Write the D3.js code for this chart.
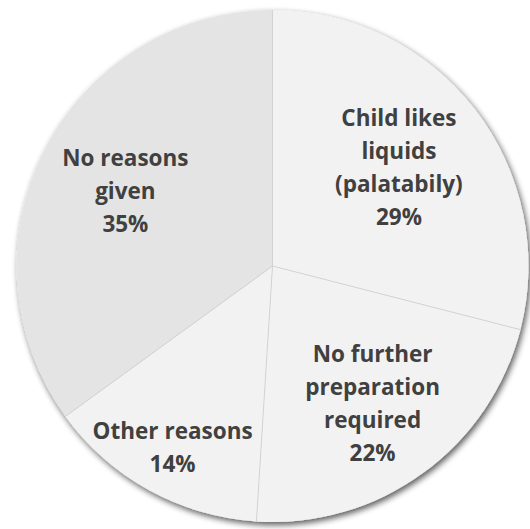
<!DOCTYPE html>
<html>
<head>
<meta charset="utf-8">
<script src="https://cdn.jsdelivr.net/npm/d3@7"></script>
<style>
  html, body { margin: 0; padding: 0; background: #ffffff; }
  svg { display: block; }
</style>
</head>
<body>
<div id="chart"></div>
<script>
// Reasons for choosing a liquid formulation (share of respondents, %)
const categories = [
  "Child likes liquids (palatabily)",
  "No further preparation required",
  "Other reasons",
  "No reasons given"
];
const values = [29, 22, 14, 35];
const labelLines = [
  ["Child likes", "liquids", "(palatabily)", "29%"],
  ["No further", "preparation", "required", "22%"],
  ["Other reasons", "14%"],
  ["No reasons", "given", "35%"]
];
const sliceColors = ["#f2f2f2", "#f2f2f2", "#f2f2f2", "#e4e4e4"];

const width = 530, height = 529;
const cx = 272.5, cy = 266, radius = 256;
// how far out (fraction of radius) each label block sits
const labelRadiusFactor = [0.625, 0.665, 0.81, 0.645];
const lineHeight = 33;

const svg = d3.select("#chart").append("svg")
  .attr("width", width)
  .attr("height", height);

const defs = svg.append("defs");
const shadow = defs.append("filter")
  .attr("id", "pieShadow")
  .attr("x", "-10%").attr("y", "-10%")
  .attr("width", "120%").attr("height", "120%");
shadow.append("feGaussianBlur").attr("in", "SourceAlpha").attr("stdDeviation", 3);
shadow.append("feOffset").attr("dx", 1.5).attr("dy", 3).attr("result", "off");
shadow.append("feComponentTransfer").append("feFuncA").attr("type", "linear").attr("slope", 0.65);
const merge = shadow.append("feMerge");
merge.append("feMergeNode");
merge.append("feMergeNode").attr("in", "SourceGraphic");

const pie = d3.pie().sort(null).value(d => d)(values);
const arc = d3.arc().innerRadius(0).outerRadius(radius);

const g = svg.append("g").attr("transform", `translate(${cx},${cy})`);

// disc with soft drop shadow
g.append("g").attr("filter", "url(#pieShadow)")
  .selectAll("path.slice")
  .data(pie)
  .join("path")
  .attr("class", "slice")
  .attr("d", arc)
  .attr("fill", (d, i) => sliceColors[i]);

// thin separators between slices
g.selectAll("line.sep")
  .data(pie)
  .join("line")
  .attr("class", "sep")
  .attr("x1", 0).attr("y1", 0)
  .attr("x2", d => Math.sin(d.startAngle) * radius)
  .attr("y2", d => -Math.cos(d.startAngle) * radius)
  .attr("stroke", "#cfcfcf")
  .attr("stroke-width", 0.8);

// data labels
g.selectAll("text.lbl")
  .data(pie)
  .join("text")
  .attr("class", "lbl")
  .attr("text-anchor", "middle")
  .attr("font-family", "'Open Sans', sans-serif")
  .attr("font-weight", "bold")
  .attr("font-size", "22.5px")
  .attr("fill", "#404040")
  .each(function (d, i) {
    const r = radius * labelRadiusFactor[i];
    const a = (d.startAngle + d.endAngle) / 2;
    const x = Math.sin(a) * r;
    const y = -Math.cos(a) * r;
    const lines = labelLines[i];
    const firstBaseline = y - (lines.length - 1) * lineHeight / 2 + 8;
    d3.select(this).selectAll("tspan")
      .data(lines)
      .join("tspan")
      .attr("x", x)
      .attr("y", (t, k) => firstBaseline + k * lineHeight)
      .text(t => t);
  });
</script>
</body>
</html>
